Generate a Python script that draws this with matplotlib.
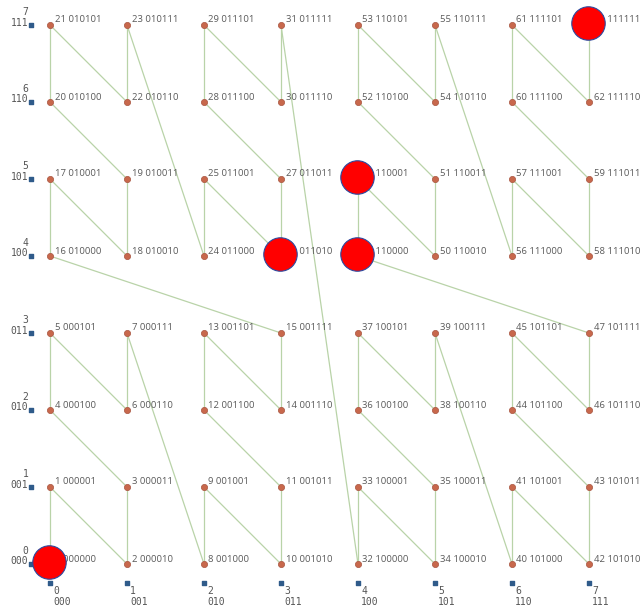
import matplotlib
matplotlib.use("Agg")
import matplotlib.pyplot as plt
from matplotlib.transforms import offset_copy

# Node ids arranged on the 8x8 grid, rows listed from top (y=7) to bottom (y=0)
grid_rows = [
    [21, 23, 29, 31, 53, 55, 61, 63],
    [20, 22, 28, 30, 52, 54, 60, 62],
    [17, 19, 25, 27, 49, 51, 57, 59],
    [16, 18, 24, 26, 48, 50, 56, 58],
    [5, 7, 13, 15, 37, 39, 45, 47],
    [4, 6, 12, 14, 36, 38, 44, 46],
    [1, 3, 9, 11, 33, 35, 41, 43],
    [0, 2, 8, 10, 32, 34, 40, 42],
]
# order in which the path visits the nodes
path_order = list(range(64))
# highlighted nodes (big red discs)
highlighted = [0, 26, 48, 49, 63]
# axis tick labels
x_ticks = [0, 1, 2, 3, 4, 5, 6, 7]
x_tick_bits = ["000", "001", "010", "011", "100", "101", "110", "111"]
y_ticks = [0, 1, 2, 3, 4, 5, 6, 7]
y_tick_bits = ["000", "001", "010", "011", "100", "101", "110", "111"]

# positions from grid
pos = {}
nrows = len(grid_rows)
for r, row in enumerate(grid_rows):
    for c, n in enumerate(row):
        pos[n] = (c, nrows - 1 - r)

fig = plt.figure(figsize=(6.44, 6.08), dpi=100)
ax = fig.add_axes([0, 0, 1, 1])
ax.set_xlim(-50 / 77, 594 / 77)
ax.set_ylim(-44 / 77, 564 / 77)
ax.axis("off")

# edges of the path
for a, b in zip(path_order[:-1], path_order[1:]):
    xa, ya = pos[a]
    xb, yb = pos[b]
    ax.plot([xa, xb], [ya, yb], color="#b9d3a8", lw=0.9, zorder=1)

# nodes
xs = [pos[n][0] for n in path_order]
ys = [pos[n][1] for n in path_order]
ax.scatter(xs, ys, s=20, color="#c8684c", edgecolors="#a85440", linewidths=0.5, zorder=2)

# node labels
lab_tr = offset_copy(ax.transData, fig=fig, x=4.5, y=2.5, units="dots")
for n in path_order:
    x, y = pos[n]
    ax.text(x, y, f"{n} {n:06b}", transform=lab_tr, ha="left", va="baseline",
            fontsize=6.8, family="Open Sans", color="#5a5a5a", zorder=3)

# axis markers
sq = "#2f5b8a"
ax.scatter(x_ticks, [-0.25] * len(x_ticks), marker="s", s=9, color=sq, zorder=2)
ax.scatter([-0.25] * len(y_ticks), y_ticks, marker="s", s=9, color=sq, zorder=2)

bx_tr = offset_copy(ax.transData, fig=fig, x=3, y=-2.5, units="dots")
for t, bits in zip(x_ticks, x_tick_bits):
    ax.text(t, -0.25, f"{t}\n{bits}", transform=bx_tr, ha="left", va="top",
            multialignment="left", fontsize=7, family="DejaVu Sans Mono",
            color="#555555", linespacing=1.1, zorder=3)

ly_tr = offset_copy(ax.transData, fig=fig, x=-2.5, y=-2.5, units="dots")
for t, bits in zip(y_ticks, y_tick_bits):
    ax.text(-0.25, t, f"{t}\n{bits}", transform=ly_tr, ha="right", va="bottom",
            multialignment="right", fontsize=7, family="DejaVu Sans Mono",
            color="#555555", linespacing=1.1, zorder=3)

# highlighted discs
hx = [pos[n][0] for n in highlighted]
hy = [pos[n][1] for n in highlighted]
hl_tr = offset_copy(ax.transData, fig=fig, x=-1, y=2.5, units="dots")
ax.scatter(hx, hy, s=580, color="#ff0000", edgecolors="#2b4aa0", linewidths=0.8,
           zorder=5, transform=hl_tr)

fig.savefig("out.png", dpi=100)
